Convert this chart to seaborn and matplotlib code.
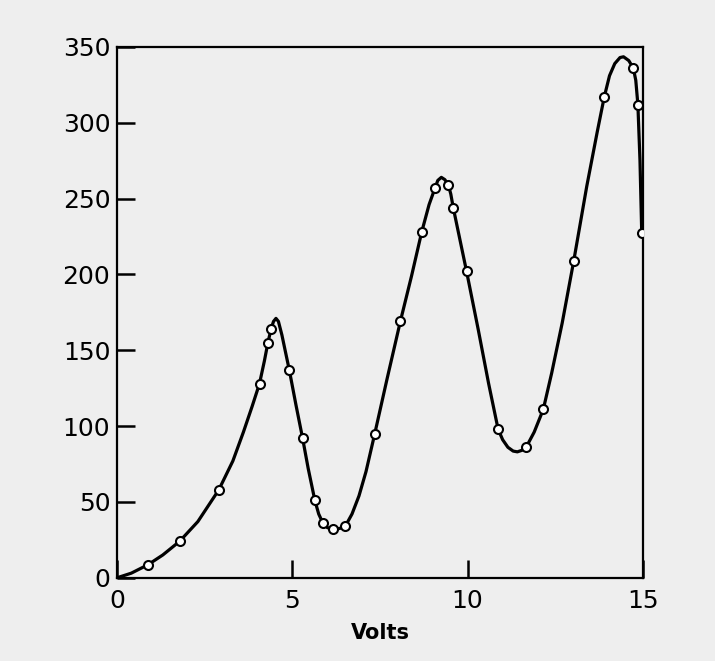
import matplotlib
matplotlib.use("Agg")
import matplotlib.pyplot as plt
import seaborn as sns
import pandas as pd

volts = [0.88, 1.78, 2.9, 4.06, 4.3, 4.39, 4.91, 5.29, 5.64, 5.87, 6.16, 6.51,
         7.35, 8.08, 8.69, 9.07, 9.45, 9.59, 9.97, 10.87, 11.67, 12.16, 13.03,
         13.9, 14.73, 14.86, 14.97]
current = [8.6, 24, 58, 128, 155, 164, 137, 92, 51, 36, 32, 34,
           95, 169, 228, 257, 259, 244, 202, 98, 86, 111, 209,
           317, 336, 312, 227]

# hand-drawn curve
curve_v = [0, 0.4, 0.88, 1.3, 1.78, 2.3, 2.9, 3.3, 3.6, 3.85, 4.06, 4.2, 4.3,
           4.39, 4.46, 4.53, 4.6, 4.7, 4.8, 4.91, 5.1, 5.29, 5.45, 5.64, 5.75,
           5.87, 6.0, 6.16, 6.35, 6.51, 6.7, 6.9, 7.1, 7.35, 7.7, 8.08, 8.4,
           8.69, 8.9, 9.07, 9.15, 9.25, 9.35, 9.45, 9.52, 9.59, 9.78, 9.97,
           10.3, 10.6, 10.87, 11.0, 11.15, 11.3, 11.42, 11.55, 11.67, 11.9,
           12.16, 12.4, 12.7, 13.03, 13.4, 13.7, 13.9, 14.05, 14.2, 14.35,
           14.45, 14.6, 14.73, 14.8, 14.86, 14.92, 14.97]
curve_i = [0, 3, 8.6, 15, 24, 37, 58, 77, 96, 113, 128, 143, 155,
           164, 169, 171, 169, 160, 149, 137, 114, 92, 72, 51, 42,
           36, 33, 32, 32.5, 34, 42, 54, 70, 95, 131, 169, 199,
           228, 246, 257, 262, 264, 262.5, 259, 253, 244, 223, 202,
           164, 128, 98, 91, 86, 83.5, 83, 84, 86, 96,
           111, 135, 168, 209, 258, 294, 317, 331, 339, 343,
           343.5, 341, 336, 328, 312, 275, 227]

x_ticks = [0, 5, 10, 15]
y_ticks = [0, 50, 100, 150, 200, 250, 300, 350]

sns.set_style("ticks")
plt.rcParams['font.family'] = ['DejaVu Sans']

bg = '#eeeeee'
fig = plt.figure(figsize=(7.15, 6.61), dpi=100, facecolor=bg)
ax = fig.add_axes([0.164, 0.126, 0.735, 0.803])
ax.set_facecolor(bg)

pts = pd.DataFrame({'Volts': volts, 'I': current})
crv = pd.DataFrame({'Volts': curve_v, 'I': curve_i})

sns.lineplot(data=crv, x='Volts', y='I', sort=False, color='black',
             linewidth=2.3, ax=ax, zorder=2)
sns.scatterplot(data=pts, x='Volts', y='I', marker='o', s=42,
                facecolor='white', edgecolor='black', linewidth=1.5,
                ax=ax, zorder=3)

ax.set_xlim(0, 15)
ax.set_ylim(0, 350)
ax.set_xticks(x_ticks)
ax.set_yticks(y_ticks)
ax.tick_params(direction='in', length=13, width=1.8, labelsize=18,
               colors='black')
ax.tick_params(axis='x', pad=8)
ax.tick_params(axis='y', pad=5)
for s in ax.spines.values():
    s.set_visible(True)
    s.set_linewidth(1.6)
    s.set_color('black')

ax.set_xlabel('Volts', fontsize=15, fontweight='bold', color='black',
              labelpad=7)
ax.set_ylabel('')

plt.savefig('out.png', dpi=100, facecolor=bg)
